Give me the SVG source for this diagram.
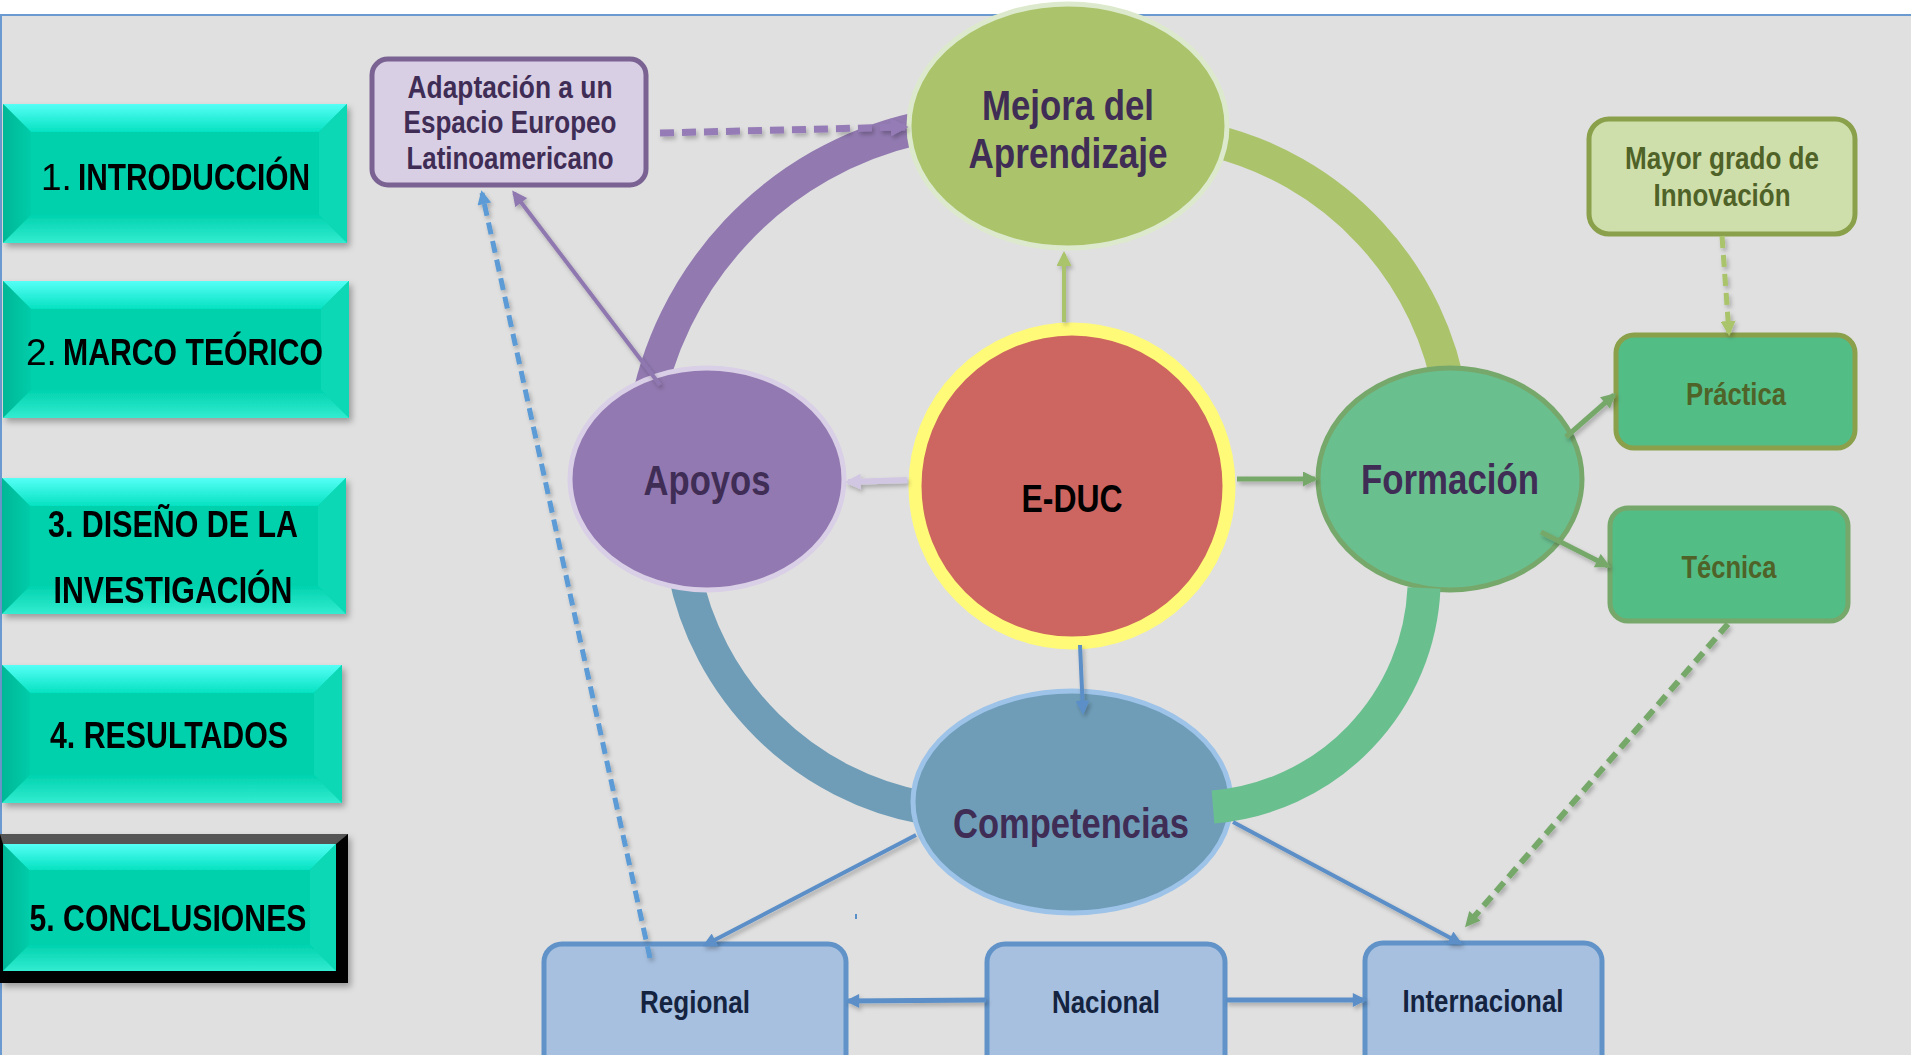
<svg xmlns="http://www.w3.org/2000/svg" width="1911" height="1055" viewBox="0 0 1911 1055">
<style>
.t{font-family:"Liberation Sans Narrow","Liberation Sans",Arial,sans-serif;font-weight:bold;text-anchor:middle}
.s{text-anchor:start}
.btn{fill:#000;font-size:37px}
.reg{font-weight:normal}
.nd{fill:#3f2d56;font-size:42px}
.grn{fill:#4f6228;font-size:31px}
.blu{fill:#14233f;font-size:31px}
.face{fill:#00d1ad}
.bl{fill:url(#gLeft)}
.bt{fill:url(#gTop)}
.br{fill:#08d8b5}
.bb{fill:url(#gBot)}
.ring{fill:none;stroke-width:33}
.c{fill:none}
</style>
<defs>
<linearGradient id="gTop" x1="0" y1="0" x2="0" y2="1"><stop offset="0" stop-color="#55fff6"/><stop offset="1" stop-color="#05e2c2"/></linearGradient>
<linearGradient id="gLeft" x1="0" y1="0" x2="1" y2="0"><stop offset="0" stop-color="#00b797"/><stop offset="1" stop-color="#00cca9"/></linearGradient>
<linearGradient id="gBot" x1="0" y1="0" x2="0" y2="1"><stop offset="0" stop-color="#00d3af"/><stop offset="1" stop-color="#33ecd0"/></linearGradient>
<filter id="sh" x="-10%" y="-10%" width="125%" height="130%"><feDropShadow dx="3" dy="4" stdDeviation="3" flood-color="#000" flood-opacity="0.3"/></filter>
<filter id="ls" x="-20%" y="-20%" width="140%" height="140%"><feDropShadow dx="2" dy="3" stdDeviation="2" flood-color="#000" flood-opacity="0.25"/></filter>
<marker id="mBlue" viewBox="0 0 10 10" refX="8" refY="5" markerWidth="15" markerHeight="14" markerUnits="userSpaceOnUse" orient="auto"><path d="M0,0 L10,5 L0,10 z" fill="#5b8fc7"/></marker>
<marker id="mBlueD" viewBox="0 0 10 10" refX="8" refY="5" markerWidth="15" markerHeight="14" markerUnits="userSpaceOnUse" orient="auto"><path d="M0,0 L10,5 L0,10 z" fill="#5b9bd5"/></marker>
<marker id="mGreen" viewBox="0 0 10 10" refX="8" refY="5" markerWidth="16" markerHeight="15" markerUnits="userSpaceOnUse" orient="auto"><path d="M0,0 L10,5 L0,10 z" fill="#76a86a"/></marker>
<marker id="mLGreen" viewBox="0 0 10 10" refX="8" refY="5" markerWidth="15" markerHeight="15" markerUnits="userSpaceOnUse" orient="auto"><path d="M0,0 L10,5 L0,10 z" fill="#a9c46a"/></marker>
<marker id="mLav" viewBox="0 0 10 10" refX="8" refY="5" markerWidth="16" markerHeight="16" markerUnits="userSpaceOnUse" orient="auto"><path d="M0,0 L10,5 L0,10 z" fill="#d2c7e2"/></marker>
<marker id="mPurp" viewBox="0 0 10 10" refX="8" refY="5" markerWidth="16" markerHeight="15" markerUnits="userSpaceOnUse" orient="auto"><path d="M0,0 L10,5 L0,10 z" fill="#8f77b0"/></marker>
<marker id="mPurpD" viewBox="0 0 10 10" refX="8" refY="5" markerWidth="18" markerHeight="18" markerUnits="userSpaceOnUse" orient="auto"><path d="M0,0 L10,5 L0,10 z" fill="#957cb6"/></marker>
</defs>

<rect x="0" y="0" width="1911" height="1055" fill="#ffffff"/>
<rect x="0" y="15" width="1911" height="1040" fill="#e0e0e0"/>
<line x1="0" y1="15" x2="1911" y2="15" stroke="#6a9ad0" stroke-width="2"/>
<line x1="1" y1="15" x2="1" y2="1055" stroke="#6a9ad0" stroke-width="2"/>

<!-- menu buttons -->
<g id="btn1" filter="url(#sh)">
<rect class="face" x="3" y="104" width="344" height="139"/>
<polygon class="bt" points="3,104 347,104 319,132 31,132"/>
<polygon class="bl" points="3,104 31,132 31,215 3,243"/>
<polygon class="br" points="347,104 347,243 319,215 319,132"/>
<polygon class="bb" points="3,243 347,243 319,215 31,215"/>
<text class="t btn s reg" x="41" y="190">1.</text>
<text class="t btn s" x="78" y="190" textLength="232" lengthAdjust="spacingAndGlyphs">INTRODUCCIÓN</text>
</g>
<g id="btn2" filter="url(#sh)">
<rect class="face" x="3" y="281" width="346" height="137"/>
<polygon class="bt" points="3,281 349,281 321,309 31,309"/>
<polygon class="bl" points="3,281 31,309 31,390 3,418"/>
<polygon class="br" points="349,281 349,418 321,390 321,309"/>
<polygon class="bb" points="3,418 349,418 321,390 31,390"/>
<text class="t btn s reg" x="26" y="365">2.</text>
<text class="t btn s" x="63" y="365" textLength="260" lengthAdjust="spacingAndGlyphs">MARCO TEÓRICO</text>
</g>
<g id="btn3" filter="url(#sh)">
<rect class="face" x="2" y="478" width="344" height="136"/>
<polygon class="bt" points="2,478 346,478 318,506 30,506"/>
<polygon class="bl" points="2,478 30,506 30,586 2,614"/>
<polygon class="br" points="346,478 346,614 318,586 318,506"/>
<polygon class="bb" points="2,614 346,614 318,586 30,586"/>
<text class="t btn" x="173" y="537" textLength="250" lengthAdjust="spacingAndGlyphs">3. DISEÑO DE LA</text>
<text class="t btn" x="173" y="603" textLength="239" lengthAdjust="spacingAndGlyphs">INVESTIGACIÓN</text>
</g>
<g id="btn4" filter="url(#sh)">
<rect class="face" x="2" y="665" width="340" height="138"/>
<polygon class="bt" points="2,665 342,665 314,693 30,693"/>
<polygon class="bl" points="2,665 30,693 30,775 2,803"/>
<polygon class="br" points="342,665 342,803 314,775 314,693"/>
<polygon class="bb" points="2,803 342,803 314,775 30,775"/>
<text class="t btn" x="169" y="748" textLength="238" lengthAdjust="spacingAndGlyphs">4. RESULTADOS</text>
</g>
<g id="btn5" filter="url(#sh)">
<rect x="0" y="834" width="348" height="149" fill="#050505"/>
<polygon points="0,834 348,834 336,844 3,844" fill="#555555"/>
<rect class="face" x="3" y="844" width="333" height="127"/>
<polygon class="bt" points="3,844 336,844 310,870 29,870"/>
<polygon class="bl" points="3,844 29,870 29,945 3,971"/>
<polygon class="br" points="336,844 336,971 310,945 310,870"/>
<polygon class="bb" points="3,971 336,971 310,945 29,945"/>
<text class="t btn" x="168" y="931" textLength="277" lengthAdjust="spacingAndGlyphs">5. CONCLUSIONES</text>
</g>

<!-- ring segments (under nodes) -->
<g id="ring">
<path class="ring" d="M 915 129 A 355 355 0 0 0 645 416" stroke="#927ab1"/>
<path class="ring" d="M 684 570 A 300 300 0 0 0 925 808" stroke="#6f9db8"/>
<path class="ring" d="M 1210 140 A 317 317 0 0 1 1451 400" stroke="#abc46c"/>
</g>

<!-- nodes -->
<g id="adaptacion">
<rect x="372" y="59" width="274" height="126" rx="16" fill="#d9cfe4" stroke="#7a6393" stroke-width="5"/>
<text class="t" x="510" y="98" font-size="32" fill="#3f2d56" textLength="205" lengthAdjust="spacingAndGlyphs">Adaptación a un</text>
<text class="t" x="510" y="133" font-size="32" fill="#3f2d56" textLength="213" lengthAdjust="spacingAndGlyphs">Espacio Europeo</text>
<text class="t" x="510" y="169" font-size="32" fill="#3f2d56" textLength="207" lengthAdjust="spacingAndGlyphs">Latinoamericano</text>
</g>
<g id="mejora">
<ellipse cx="1068" cy="126" rx="159" ry="122" fill="#abc46c" stroke="#dde9cc" stroke-width="5"/>
<text class="t nd" x="1068" y="120" textLength="172" lengthAdjust="spacingAndGlyphs">Mejora del</text>
<text class="t nd" x="1068" y="168" textLength="199" lengthAdjust="spacingAndGlyphs">Aprendizaje</text>
</g>
<g id="educ">
<circle cx="1072" cy="486" r="157" fill="#cd6660" stroke="#fffa78" stroke-width="13"/>
<text class="t" x="1072" y="512" font-size="38" fill="#000" textLength="101" lengthAdjust="spacingAndGlyphs">E-DUC</text>
</g>
<g id="apoyos">
<ellipse cx="707" cy="479" rx="137" ry="111" fill="#9379b1" stroke="#d9cfe6" stroke-width="5"/>
<text class="t nd" x="707" y="495" textLength="127" lengthAdjust="spacingAndGlyphs">Apoyos</text>
</g>
<g id="formacion">
<ellipse cx="1450" cy="479" rx="132" ry="111" fill="#6abf8f" stroke="#77a86b" stroke-width="5"/>
<text class="t nd" x="1450" y="494" textLength="178" lengthAdjust="spacingAndGlyphs">Formación</text>
</g>
<g id="competencias">
<ellipse cx="1072" cy="802" rx="159" ry="111" fill="#6f9db8" stroke="#9dc3e8" stroke-width="5"/>
<text class="t nd" x="1071" y="838" textLength="236" lengthAdjust="spacingAndGlyphs">Competencias</text>
</g>
<g id="mayor">
<rect x="1589" y="119" width="266" height="115" rx="20" fill="#cfdfab" stroke="#8aa04a" stroke-width="5"/>
<text class="t grn" x="1722" y="169" textLength="194" lengthAdjust="spacingAndGlyphs">Mayor grado de</text>
<text class="t grn" x="1722" y="206" textLength="137" lengthAdjust="spacingAndGlyphs">Innovación</text>
</g>
<g id="practica">
<rect x="1616" y="335" width="239" height="113" rx="18" fill="#53bd86" stroke="#8aa04a" stroke-width="5"/>
<text class="t grn" x="1736" y="405" textLength="100" lengthAdjust="spacingAndGlyphs">Práctica</text>
</g>
<g id="tecnica">
<rect x="1610" y="508" width="238" height="113" rx="18" fill="#53bd86" stroke="#77a86b" stroke-width="5"/>
<text class="t grn" x="1729" y="578" textLength="95" lengthAdjust="spacingAndGlyphs">Técnica</text>
</g>
<g id="regional">
<rect x="544" y="944" width="302" height="140" rx="18" fill="#a7c0df" stroke="#6193c9" stroke-width="5"/>
<text class="t blu" x="695" y="1013" textLength="110" lengthAdjust="spacingAndGlyphs">Regional</text>
</g>
<g id="nacional">
<rect x="987" y="944" width="238" height="140" rx="18" fill="#a7c0df" stroke="#6193c9" stroke-width="5"/>
<text class="t blu" x="1106" y="1013" textLength="108" lengthAdjust="spacingAndGlyphs">Nacional</text>
</g>
<g id="internacional">
<rect x="1365" y="943" width="237" height="140" rx="18" fill="#a7c0df" stroke="#6193c9" stroke-width="5"/>
<text class="t blu" x="1483" y="1012" textLength="161" lengthAdjust="spacingAndGlyphs">Internacional</text>
</g>

<!-- connectors -->
<g id="connectors">
<path class="ring" d="M 1424 588 A 230 230 0 0 1 1213 807" stroke="#6abf8f"/>
<g filter="url(#ls)">
<path class="c" d="M 660 133 L 905 127" stroke="#957cb6" stroke-width="7" stroke-dasharray="14 8" marker-end="url(#mPurpD)"/>
<path class="c" d="M 660 385 L 514 193" stroke="#8f77b0" stroke-width="4" marker-end="url(#mPurp)"/>
<path class="c" d="M 650 958 L 482 193" stroke="#5b9bd5" stroke-width="5" stroke-dasharray="12 7" marker-end="url(#mBlueD)"/>
<path class="c" d="M 1064 322 L 1064 254" stroke="#a9c46a" stroke-width="4" marker-end="url(#mLGreen)"/>
<path class="c" d="M 907 480 L 848 482" stroke="#d2c7e2" stroke-width="6" marker-end="url(#mLav)"/>
<path class="c" d="M 1237 479 L 1315 479" stroke="#76a86a" stroke-width="5" marker-end="url(#mGreen)"/>
<path class="c" d="M 1080 645 L 1083 712" stroke="#5b8fc7" stroke-width="4" marker-end="url(#mBlue)"/>
<path class="c" d="M 916 835 L 705 945" stroke="#5b8fc7" stroke-width="4" marker-end="url(#mBlue)"/>
<path class="c" d="M 1233 822 L 1460 943" stroke="#5b8fc7" stroke-width="4" marker-end="url(#mBlue)"/>
<path class="c" d="M 986 1000 L 848 1001" stroke="#5b8fc7" stroke-width="5" marker-end="url(#mBlue)"/>
<path class="c" d="M 1226 1000 L 1364 1000" stroke="#5b8fc7" stroke-width="5" marker-end="url(#mBlue)"/>
<path class="c" d="M 1566 437 L 1614 395" stroke="#76a86a" stroke-width="5" marker-end="url(#mGreen)"/>
<path class="c" d="M 1541 532 L 1608 566" stroke="#76a86a" stroke-width="5" marker-end="url(#mGreen)"/>
<path class="c" d="M 1722 236 L 1729 333" stroke="#a9c46a" stroke-width="5" stroke-dasharray="12 7" marker-end="url(#mLGreen)"/>
<path class="c" d="M 1728 624 L 1467 925" stroke="#76a86a" stroke-width="6" stroke-dasharray="12 7" marker-end="url(#mGreen)"/>
</g>
<line x1="856" y1="914" x2="856" y2="919" stroke="#5b8fc7" stroke-width="2"/>
</g>
</svg>
